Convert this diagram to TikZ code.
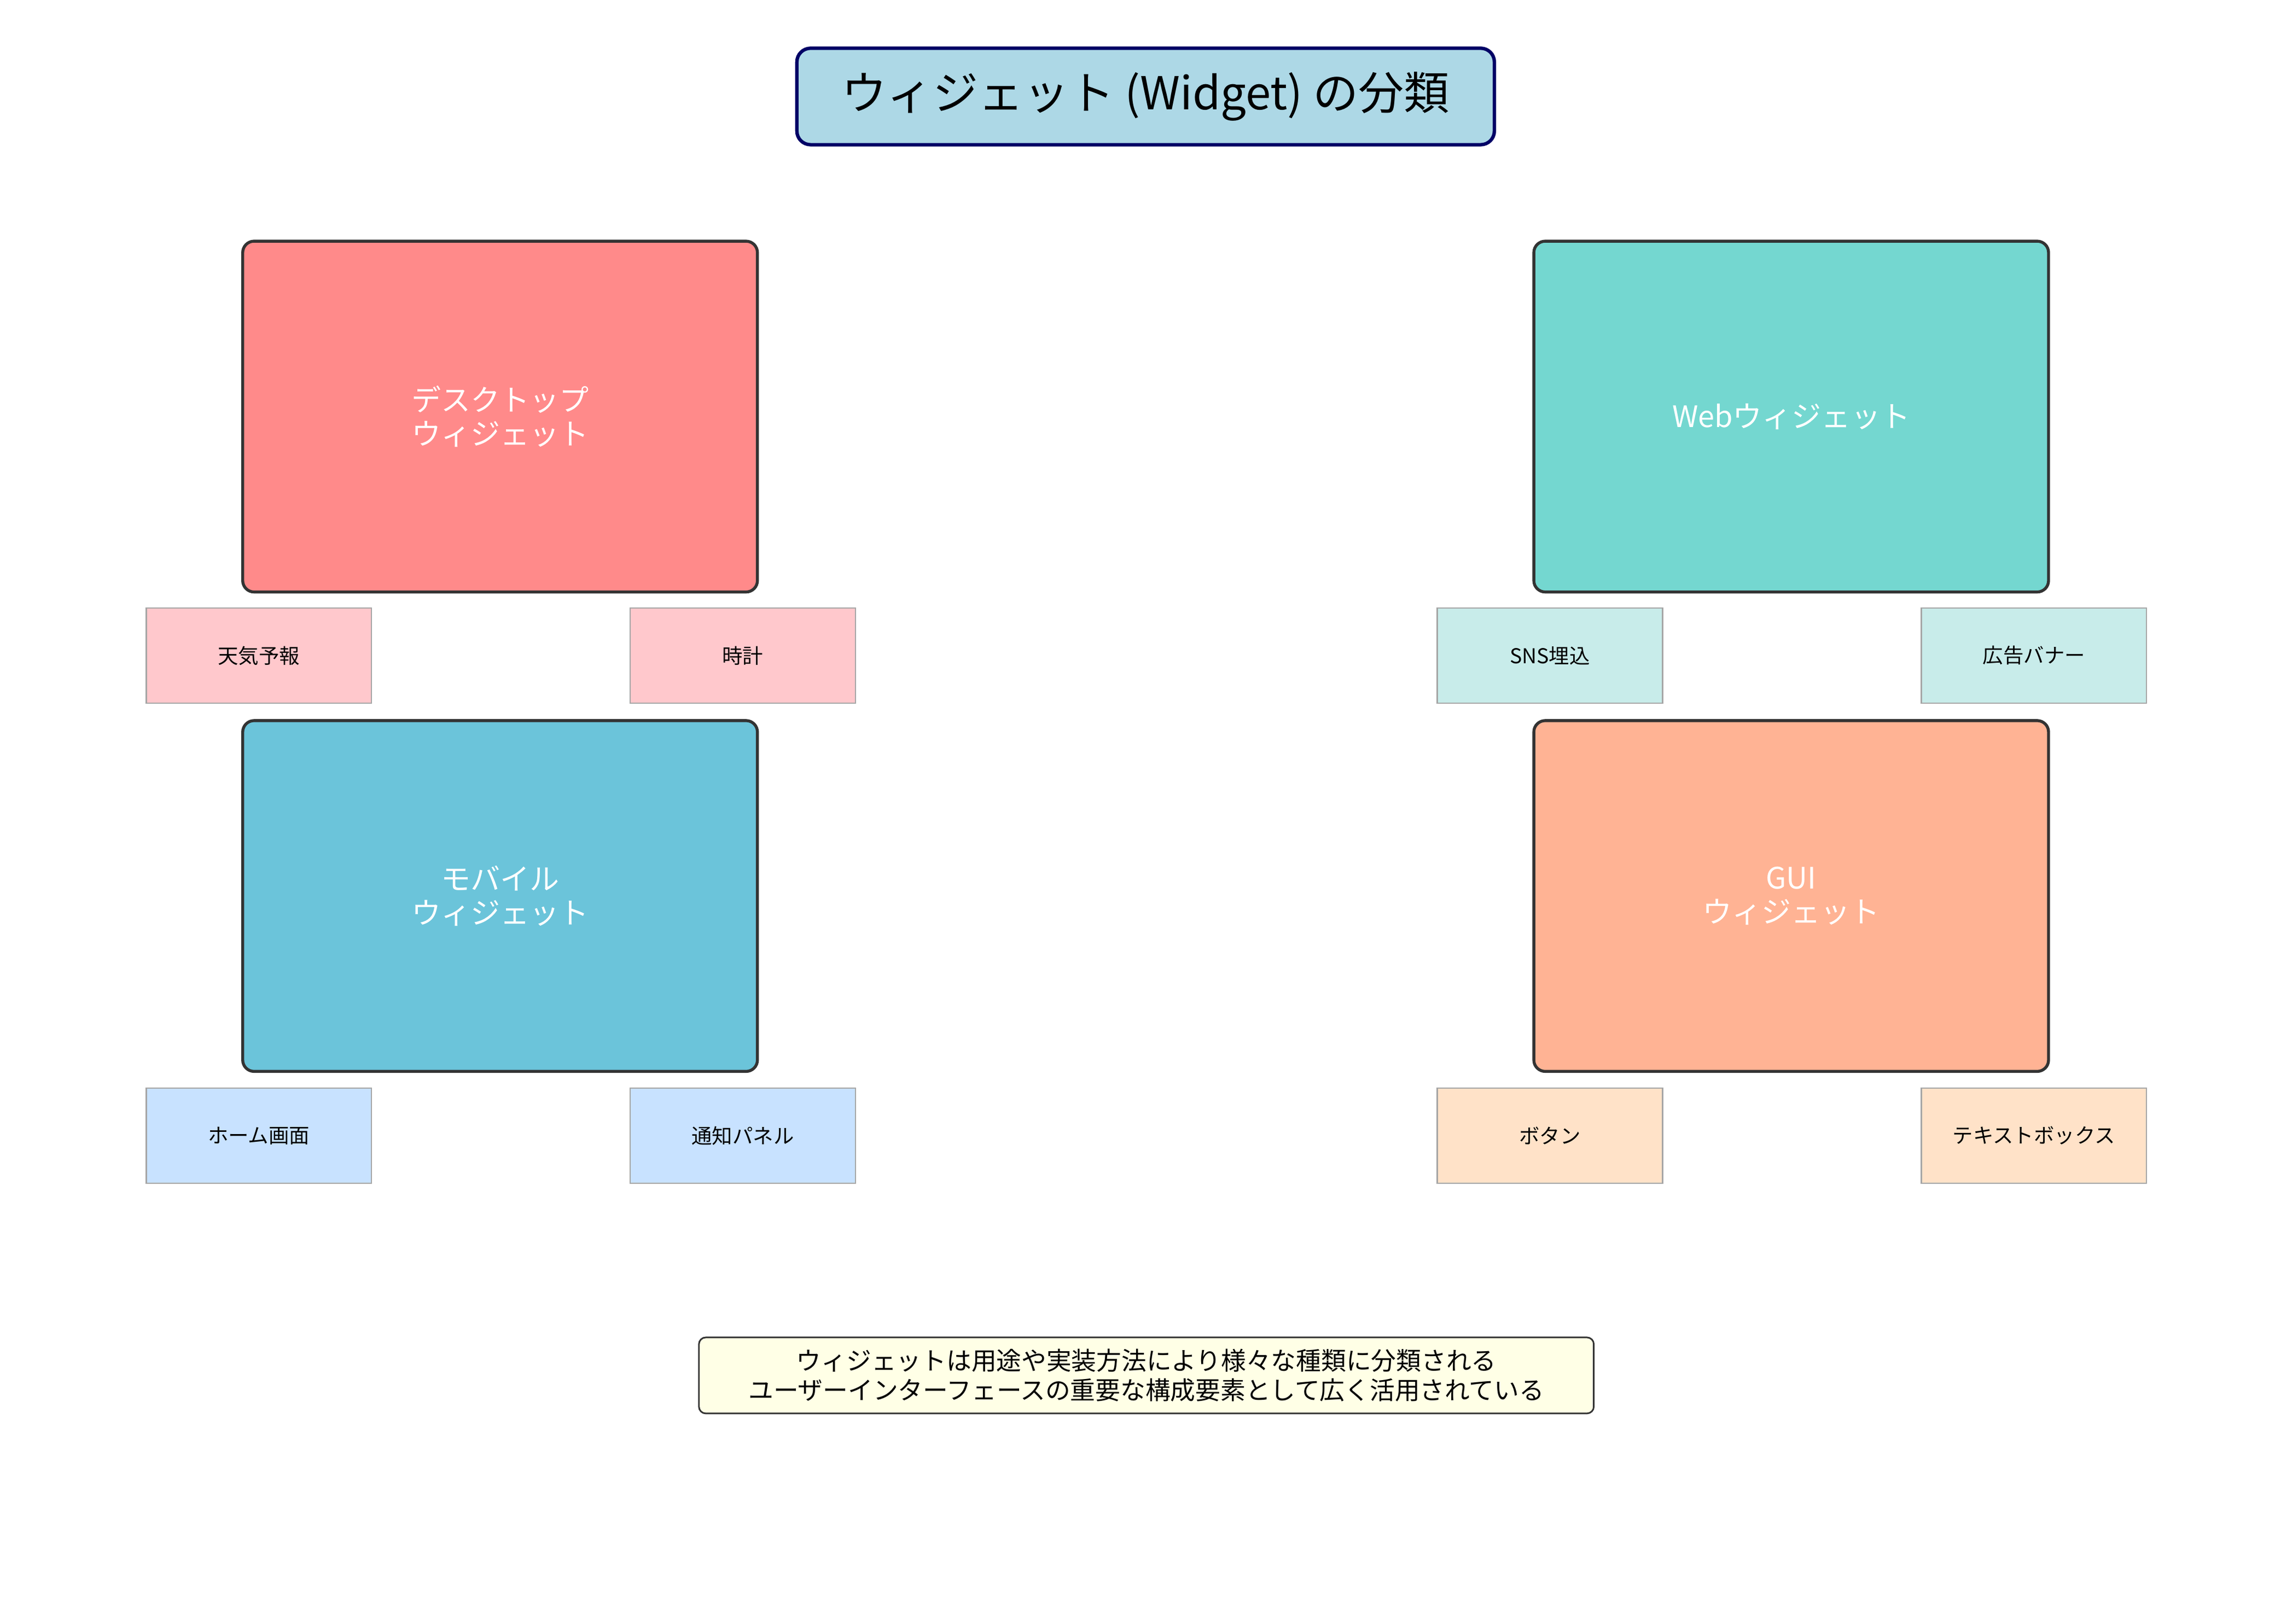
\documentclass[tikz,border=0pt]{standalone}
\usepackage{fontspec}
\setmainfont{Noto Sans CJK JP}
\definecolor{titlefill}{HTML}{ADD8E6}
\definecolor{deskfill}{HTML}{FF8A8A}
\definecolor{webfill}{HTML}{74D7D0}
\definecolor{mobfill}{HTML}{6BC4DA}
\definecolor{guifill}{HTML}{FFB394}
\definecolor{deskitem}{HTML}{FFC8CC}
\definecolor{webitem}{HTML}{C8ECEA}
\definecolor{mobitem}{HTML}{C8E2FF}
\definecolor{guiitem}{HTML}{FFE2C8}
\definecolor{notefill}{HTML}{FFFFE6}
\begin{document}
\begin{tikzpicture}[x=0.0226cm,y=-0.0226cm]

      \tikzset{bigbox/.style={draw=black!80, line width=1.3pt, rounded corners=5pt, text=white, align=center, font=\fontsize{13}{15}\selectfont, minimum width=352*0.0226cm, minimum height=240*0.0226cm, inner sep=0pt}}
      \tikzset{itembox/.style={draw=black!35, line width=0.6pt, font=\fontsize{9}{11}\selectfont, minimum width=154*0.0226cm, minimum height=65*0.0226cm, inner sep=0pt}}
      \useasboundingbox (0,0) rectangle (1560,1111);
%% Title
      	\node[draw=blue!40!black, fill=titlefill, line width=1.5pt, rounded corners=6pt, minimum width=477*0.0226cm, minimum height=66*0.0226cm, font=\fontsize{20}{24}\selectfont] (title) at (783.5,66) {ウィジェット (Widget) の分類};
%% Categories
      	\node[bigbox, fill=deskfill] (desk) at (342,285) {デスクトップ\\ウィジェット};
      	\node[bigbox, fill=webfill] (web) at (1225,285) {Webウィジェット};
      	\node[bigbox, fill=mobfill] (mob) at (342,613) {モバイル\\ウィジェット};
      	\node[bigbox, fill=guifill] (gui) at (1225,613) {GUI\\ウィジェット};
%% Examples
      	\node[itembox, fill=deskitem] (weather) at (177,448.5) {天気予報};
      	\node[itembox, fill=deskitem] (clock) at (508,448.5) {時計};
      	\node[itembox, fill=webitem] (sns) at (1060,448.5) {SNS埋込};
      	\node[itembox, fill=webitem] (banner) at (1391,448.5) {広告バナー};
      	\node[itembox, fill=mobitem] (home) at (177,777) {ホーム画面};
      	\node[itembox, fill=mobitem] (notify) at (508,777) {通知パネル};
      	\node[itembox, fill=guiitem] (button) at (1060,777) {ボタン};
      	\node[itembox, fill=guiitem] (textbox) at (1391,777) {テキストボックス};
%% Note
      	\node[draw=black!80, fill=notefill, line width=0.7pt, rounded corners=3pt, align=center, minimum width=612*0.0226cm, minimum height=52*0.0226cm, inner sep=1pt, font=\fontsize{11}{13}\selectfont] (note) at (784,941) {ウィジェットは用途や実装方法により様々な種類に分類される\\ユーザーインターフェースの重要な構成要素として広く活用されている};

	\end{tikzpicture}
\end{document}
